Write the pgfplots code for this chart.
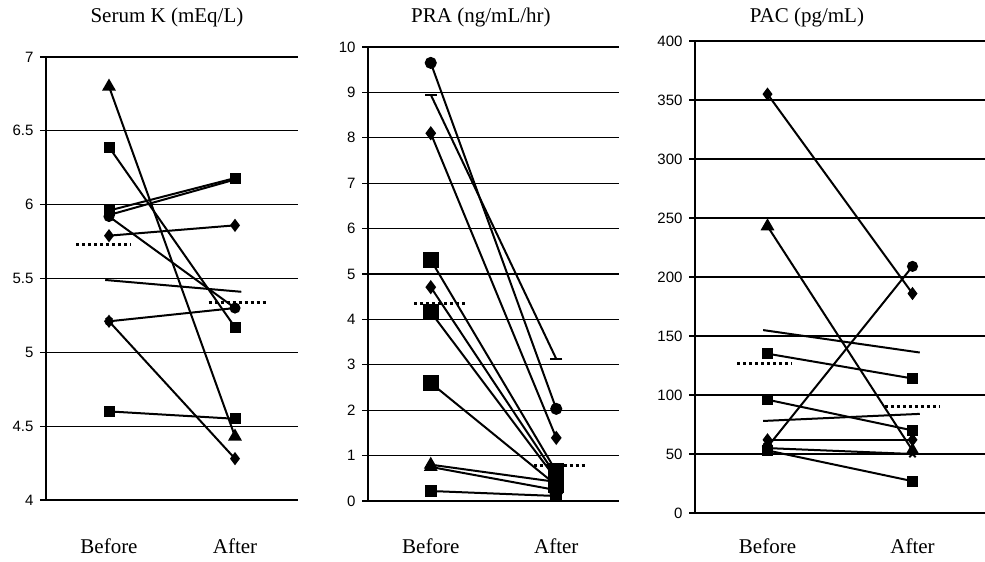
\documentclass[border=0pt]{standalone}
\usepackage{fontspec}
\setmainfont{Liberation Serif}
\newfontfamily\tickfont{Liberation Sans}
\usepackage{pgfplots}
\pgfplotsset{compat=1.18}

\pgfplotsset{
  panel/.style={
    scale only axis,
    xmin=0.5, xmax=2.5,
    axis x line=bottom, axis y line=left,
    x axis line style={draw=none},
    y axis line style={line width=2pt, -},
    ymajorgrids, grid style={black, line width=1.3pt},
    xtick={1,2}, xticklabels={Before,After},
    x tick style={draw=none},
    y tick style={black, line width=1.3pt},
    tick align=outside, major tick length=6pt,
    /pgf/number format/assume math mode=true,
    yticklabel style={font=\tickfont\fontsize{15}{16}\selectfont, xshift=-3pt},
    every axis plot/.append style={black, line width=2pt, mark options={solid}},
    clip=false,
  },
  mean/.style={black, line width=3pt, dash pattern=on 3pt off 3pt, no markers},
}

\begin{document}
\begin{tikzpicture}
\path[use as bounding box] (0,0) rectangle (985pt,562pt);

% Serum K
\begin{axis}[panel,
  at={(46pt,62pt)}, anchor=south west, width=252pt, height=443pt,
  ymin=4, ymax=7, ytick={4,4.5,...,7},
  mark size=4.5pt,
  title={Serum K (mEq/L)},
  title style={font=\fontsize{21}{22}\selectfont, at={(0.48,1)}, anchor=base, yshift=28pt},
  xticklabel style={font=\fontsize{21}{22}\selectfont, anchor=base, yshift=-47pt},
]
\addplot[mark=triangle*, mark size=6pt] coordinates {(1,6.80) (2,4.43)};
\addplot[mark=square*] coordinates {(1,6.39) (2,5.17)};
\addplot[mark=square*] coordinates {(1,5.96) (2,6.18)};
\addplot[mark=x] coordinates {(1,5.93) (2,6.17)};
\addplot[mark=*] coordinates {(1,5.92) (2,5.30)};
\addplot[mark=diamond*, mark size=5pt] coordinates {(1,5.79) (2,5.86)};
\addplot[no markers] coordinates {(0.97,5.49) (2.05,5.41)};
\addplot[mark=x] coordinates {(1,5.21) (2,5.30)};
\addplot[mark=diamond*, mark size=5pt] coordinates {(1,5.21) (2,4.28)};
\addplot[mark=square*] coordinates {(1,4.60) (2,4.55)};
\addplot[mean] coordinates {(0.74,5.73) (1.17,5.73)};
\addplot[mean] coordinates {(1.79,5.34) (2.25,5.34)};
\end{axis}

% PRA
\begin{axis}[panel,
  at={(368pt,61pt)}, anchor=south west, width=251pt, height=454pt,
  ymin=0, ymax=10, ytick={0,1,...,10},
  mark size=4.5pt,
  title={PRA (ng/mL/hr)},
  title style={font=\fontsize{21}{22}\selectfont, at={(0.45,1)}, anchor=base, yshift=18pt},
  xticklabel style={font=\fontsize{21}{22}\selectfont, anchor=base, yshift=-46pt},
]
\addplot[mark=*, mark size=5pt] coordinates {(1,9.65) (2,2.03)};
\addplot[mark=-, mark size=6pt] coordinates {(1,8.95) (2,3.13)};
\addplot[mark=diamond*, mark size=5.5pt] coordinates {(1,8.10) (2,1.39)};
\addplot[mark=square*, mark size=7pt] coordinates {(1,5.31) (2,0.65)};
\addplot[mark=diamond*, mark size=5.5pt] coordinates {(1,4.71) (2,0.55)};
\addplot[mark=square*, mark size=7pt] coordinates {(1,4.16) (2,0.48)};
\addplot[mark=square*, mark size=7pt] coordinates {(1,2.60) (2,0.35)};
\addplot[mark=triangle*, mark size=6pt] coordinates {(1,0.80) (2,0.42)};
\addplot[mark=triangle*, mark size=6pt] coordinates {(1,0.75) (2,0.24)};
\addplot[mark=square*, mark size=5pt] coordinates {(1,0.22) (2,0.11)};
\addplot[mean] coordinates {(0.87,4.36) (1.30,4.36)};
\addplot[mean] coordinates {(1.82,0.79) (2.25,0.79)};
\end{axis}

% PAC
\begin{axis}[panel,
  at={(695pt,49pt)}, anchor=south west, width=290pt, height=472pt,
  ymin=0, ymax=400, ytick={0,50,...,400},
  mark size=4.5pt,
  title={PAC (pg/mL)},
  title style={font=\fontsize{21}{22}\selectfont, at={(0.386,1)}, anchor=base, yshift=12pt},
  xticklabel style={font=\fontsize{21}{22}\selectfont, anchor=base, yshift=-34pt},
]
\addplot[mark=diamond*, mark size=5pt] coordinates {(1,355) (2,186)};
\addplot[mark=triangle*, mark size=6pt] coordinates {(1,243) (2,53)};
\addplot[no markers] coordinates {(0.97,155) (2.05,136)};
\addplot[mark=square*] coordinates {(1,135) (2,114)};
\addplot[mark=square*] coordinates {(1,96) (2,70)};
\addplot[no markers] coordinates {(0.97,78) (2.05,84)};
\addplot[mark=*] coordinates {(1,56) (2,209)};
\addplot[mark=diamond*, mark size=5pt] coordinates {(1,62) (2,62)};
\addplot[mark=x] coordinates {(1,55) (2,50)};
\addplot[mark=square*] coordinates {(1,53) (2,27)};
\addplot[mean] coordinates {(0.79,127) (1.17,127)};
\addplot[mean] coordinates {(1.81,90.5) (2.19,90.5)};
\end{axis}
\end{tikzpicture}
\end{document}
